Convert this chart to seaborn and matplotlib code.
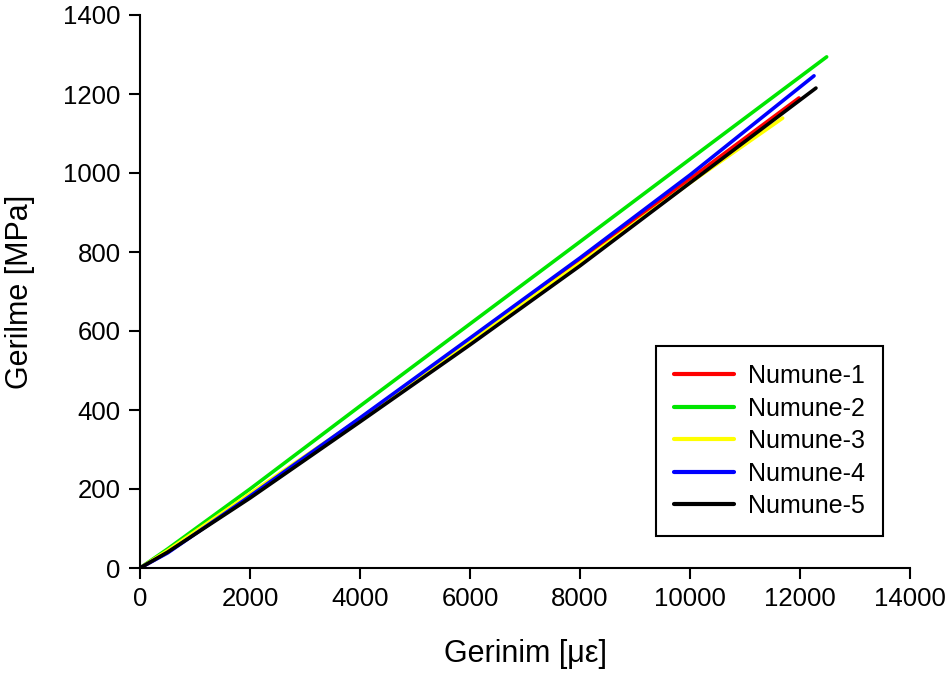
import matplotlib
matplotlib.use("Agg")
import matplotlib.pyplot as plt
import seaborn as sns
import pandas as pd
import numpy as np

# Data
series_names = ["Numune-1", "Numune-2", "Numune-3", "Numune-4", "Numune-5"]
colors = ["#ff0000", "#00e600", "#ffff00", "#0000ff", "#000000"]

strain_1 = [0, 500, 2000, 4000, 6000, 8000, 10000, 11982]
stress_1 = [0, 40, 182, 378, 577, 778, 985, 1190]

strain_2 = [0, 500, 2000, 4000, 6000, 8000, 10000, 12485]
stress_2 = [0, 48, 200, 410, 618, 826, 1035, 1294]

strain_3 = [0, 500, 2000, 4000, 6000, 8000, 10000, 11685]
stress_3 = [0, 44, 188, 378, 575, 772, 975, 1139]

strain_4 = [0, 500, 2000, 4000, 6000, 8000, 10000, 12255]
stress_4 = [0, 38, 182, 380, 582, 785, 995, 1246]

strain_5 = [0, 500, 2000, 4000, 6000, 8000, 10000, 12290]
stress_5 = [0, 40, 177, 370, 565, 765, 975, 1215]

x_ticks = [0, 2000, 4000, 6000, 8000, 10000, 12000, 14000]
y_ticks = [0, 200, 400, 600, 800, 1000, 1200, 1400]

frames = []
for name, xs, ys in zip(series_names,
                        [strain_1, strain_2, strain_3, strain_4, strain_5],
                        [stress_1, stress_2, stress_3, stress_4, stress_5]):
    frames.append(pd.DataFrame({"strain": xs, "stress": ys, "series": name}))
df = pd.concat(frames, ignore_index=True)

sns.set_theme(style="ticks")
plt.rcParams["font.family"] = ["Liberation Sans", "DejaVu Sans"]
plt.rcParams["text.color"] = "black"
plt.rcParams["axes.labelcolor"] = "black"
plt.rcParams["xtick.color"] = "black"
plt.rcParams["ytick.color"] = "black"

fig = plt.figure(figsize=(9.52, 6.84), dpi=100)
ax = fig.add_axes([140/952, 1 - 568/684, 770/952, 553/684])

sns.lineplot(data=df, x="strain", y="stress", hue="series",
             palette=dict(zip(series_names, colors)), hue_order=series_names,
             sort=False, estimator=None, linewidth=2.6, ax=ax, legend=True)

ax.set_xlim(0, 14000)
ax.set_ylim(0, 1400)
ax.set_xticks(x_ticks)
ax.set_yticks(y_ticks)
ax.set_xticklabels([str(t) for t in x_ticks])
ax.set_yticklabels([str(t) for t in y_ticks])
ax.tick_params(axis="both", direction="out", length=8, width=1.5,
               labelsize=18.5, colors="black", pad=6)
for s in ["top", "right"]:
    ax.spines[s].set_visible(False)
for s in ["left", "bottom"]:
    ax.spines[s].set_linewidth(1.5)
    ax.spines[s].set_color("black")

ax.set_xlabel("Gerinim [με]", fontsize=22, labelpad=20, color="black")
ax.set_ylabel("Gerilme [MPa]", fontsize=22, labelpad=20, color="black")

leg = ax.legend(loc="upper left", bbox_to_anchor=(0.670, 0.401),
                fontsize=18, frameon=True, fancybox=False, shadow=False,
                borderpad=0.72, labelspacing=0.34, handlelength=2.4,
                handletextpad=0.56, borderaxespad=0)
leg.get_frame().set_edgecolor("black")
leg.get_frame().set_linewidth(1.5)
leg.get_frame().set_facecolor("white")
leg.get_frame().set_alpha(1)
for text in leg.get_texts():
    text.set_color("black")
for line in leg.get_lines():
    line.set_linewidth(3)

fig.savefig("out.png", dpi=100, facecolor="white")
